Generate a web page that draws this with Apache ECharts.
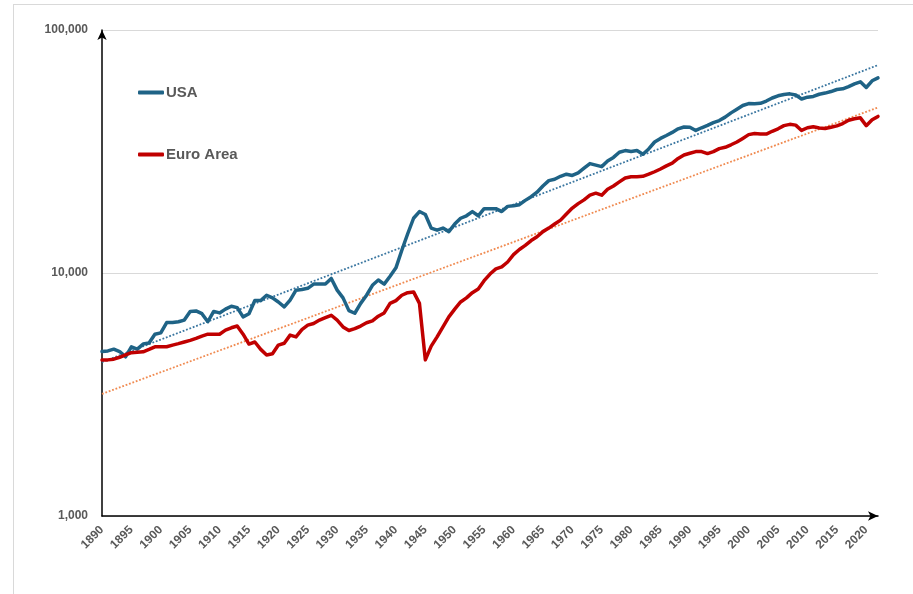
<!DOCTYPE html>
<html>
<head>
<meta charset="utf-8">
<script src="https://cdn.jsdelivr.net/npm/echarts@6/dist/echarts.min.js"></script>
<style>
  html, body { margin: 0; padding: 0; background: #fff; }
  #frame { position: absolute; left: 13px; top: 4px; width: 920px; height: 620px; border: 1px solid #d9d9d9; box-sizing: border-box; }
  #chart { position: absolute; left: 0; top: 0; width: 913px; height: 594px; }
</style>
</head>
<body>
<div id="frame"></div>
<div id="chart"></div>
<script>
// years 1890 .. 2022
const years = []
for (let y = 1890; y <= 2022; y++) years.push(String(y))

// GDP per capita, USA
const usa = [
  4750, 4780, 4860, 4750, 4520, 4970, 4860, 5100, 5150, 5600,
  5670, 6250, 6250, 6300, 6400, 6950, 6980, 6800, 6300, 6950,
  6850, 7100, 7300, 7200, 6600, 6800, 7700, 7700, 8100, 7900,
  7600, 7250, 7740, 8500, 8550, 8650, 9000, 9000, 9000, 9500,
  8500, 7900, 7000, 6830, 7500, 8100, 8900, 9360, 9000, 9700,
  10500, 12400, 14500, 16800, 17900, 17400, 15300, 15000, 15300, 14800,
  15900, 16800, 17200, 17900, 17200, 18400, 18400, 18400, 17900, 18800,
  18900, 19100, 19900, 20600, 21500, 22800, 24000, 24300, 25000, 25500,
  25200, 25800, 27000, 28200, 27800, 27400, 28900, 29900, 31400, 31900,
  31600, 31900, 30800, 32400, 34600, 35800, 36800, 37900, 39200, 39900,
  39800, 38600, 39600, 40500, 41600, 42400, 43800, 45600, 47200, 48900,
  49800, 49700, 49900, 51000, 52500, 53600, 54300, 54600, 54000, 52000,
  52900, 53300, 54400, 55000, 55800, 56900, 57300, 58500, 60000, 61200,
  58000, 61800, 63500
]

// GDP per capita, Euro Area
const euro = [
  4390, 4390, 4420, 4500, 4600, 4700, 4720, 4740, 4850, 4970,
  4970, 4970, 5050, 5120, 5200, 5280, 5380, 5500, 5600, 5600,
  5600, 5820, 5950, 6050, 5600, 5100, 5200, 4850, 4600, 4650,
  5050, 5140, 5550, 5460, 5850, 6100, 6200, 6400, 6550, 6700,
  6400, 6000, 5800, 5900, 6050, 6240, 6350, 6640, 6850, 7500,
  7700, 8100, 8300, 8360, 7500, 4390, 5000, 5460, 6000, 6600,
  7100, 7600, 7900, 8300, 8600, 9300, 9900, 10400, 10600, 11100,
  11900, 12500, 13000, 13600, 14100, 14800, 15300, 15900, 16500, 17500,
  18500, 19300, 20000, 20900, 21300, 20900, 22100, 22800, 23700, 24600,
  24900, 24900, 25000, 25500, 26100, 26800, 27600, 28300, 29600, 30600,
  31100, 31600, 31600, 31000, 31600, 32500, 32900, 33700, 34600, 35800,
  37100, 37500, 37300, 37300, 38300, 39200, 40400, 40900, 40600, 38600,
  39600, 40000, 39500, 39300, 39800, 40300, 41200, 42500, 43100, 43500,
  40400, 42700, 44100
]

// trend lines, start and end values
const trendYears = ['1890', '2022']
const usaTrend = [4300, 71700]
const euroTrend = [3180, 48000]

const chart = echarts.init(document.getElementById('chart'))
const font = "'Liberation Sans', Arial, sans-serif"

chart.setOption({
  animation: false,
  textStyle: { fontFamily: font },
  grid: { left: 102, right: 35, top: 30, bottom: 78 },
  legend: {
    data: ['USA', 'Euro Area'],
    orient: 'vertical',
    left: 133,
    top: 80,
    itemGap: 47,
    itemWidth: 26,
    itemHeight: 4,
    icon: 'roundRect',
    textStyle: { fontSize: 15, fontWeight: 'bold', color: '#595959', fontFamily: font, padding: [0, 0, 0, -3] }
  },
  xAxis: {
    type: 'category',
    data: years,
    boundaryGap: false,
    axisLine: { lineStyle: { color: '#000', width: 1.5 }, symbol: ['none', 'arrow'], symbolSize: [7, 10] },
    axisTick: { show: false },
    axisLabel: {
      interval: 4,
      rotate: 45,
      margin: 12,
      fontSize: 12,
      fontWeight: 'bold',
      color: '#595959',
      fontFamily: font
    },
    splitLine: { show: false }
  },
  yAxis: {
    type: 'log',
    logBase: 10,
    min: 1000,
    max: 100000,
    axisLine: { show: true, lineStyle: { color: '#000', width: 1.5 }, symbol: ['none', 'arrow'], symbolSize: [7, 10] },
    axisTick: { show: false },
    axisLabel: {
      margin: 14,
      fontSize: 12,
      fontWeight: 'bold',
      color: '#595959',
      fontFamily: font,
      formatter: v => Math.round(v).toLocaleString('en-US')
    },
    splitLine: { show: true, lineStyle: { color: '#d9d9d9', width: 1 } }
  },
  series: [
    {
      name: 'USA trend',
      type: 'line',
      data: trendYears.map((y, i) => [y, usaTrend[i]]),
      showSymbol: false,
      lineStyle: { color: '#3a76a0', width: 1.8, type: 'dotted' },
      z: 1
    },
    {
      name: 'Euro Area trend',
      type: 'line',
      data: trendYears.map((y, i) => [y, euroTrend[i]]),
      showSymbol: false,
      lineStyle: { color: '#f08a50', width: 1.8, type: 'dotted' },
      z: 1
    },
    {
      name: 'USA',
      type: 'line',
      data: usa,
      showSymbol: false,
      color: '#1f6386',
      lineStyle: { color: '#1f6386', width: 3.5, join: 'round', cap: 'round' },
      z: 3
    },
    {
      name: 'Euro Area',
      type: 'line',
      data: euro,
      showSymbol: false,
      color: '#c00000',
      lineStyle: { color: '#c00000', width: 3.5, join: 'round', cap: 'round' },
      z: 3
    }
  ]
})
</script>
</body>
</html>
